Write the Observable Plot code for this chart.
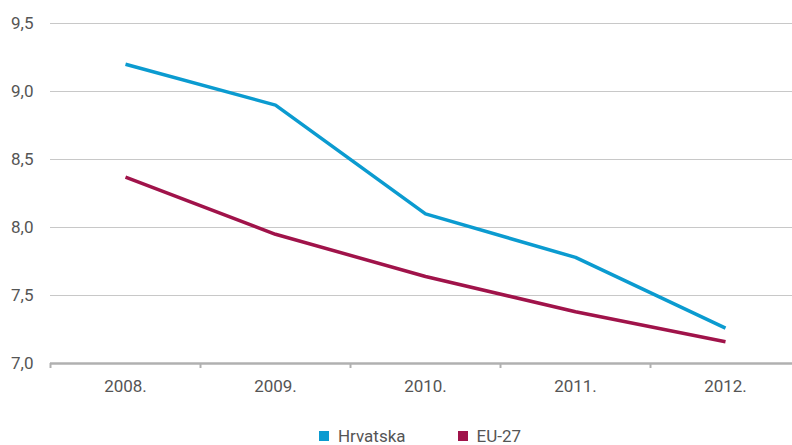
<!DOCTYPE html>
<html>
<head>
<meta charset="utf-8">
<script src="https://cdn.jsdelivr.net/npm/d3@7"></script>
<script src="https://cdn.jsdelivr.net/npm/@observablehq/plot@0.6"></script>
<style>
  body { margin: 0; background: #fff; font-family: Roboto, "DejaVu Sans", sans-serif; }
  #chart svg { display: block; }
  .legend { display: flex; justify-content: center; gap: 52px; height: 35px; align-items: center;
            font-size: 17px; color: #555; margin-left: 48px; margin-top: 8px; }
  .legend span.sw { display: inline-block; width: 10px; height: 10px; margin-right: 9px; vertical-align: 1px; }
</style>
</head>
<body>
<div id="chart"></div>
<div class="legend">
  <div><span class="sw" style="background:#0b9bd0"></span>Hrvatska</div>
  <div><span class="sw" style="background:#a0134a"></span>EU-27</div>
</div>
<script>
const years = [2008, 2009, 2010, 2011, 2012];
const hrvatska = [9.2, 8.9, 8.1, 7.78, 7.26];
const eu27 = [8.37, 7.95, 7.64, 7.38, 7.16];
const yTicks = [7.0, 7.5, 8.0, 8.5, 9.0, 9.5];
const seriesNames = ["Hrvatska", "EU-27"];
const seriesColors = ["#0b9bd0", "#a0134a"];

const rows = [];
years.forEach((yr, i) => {
  rows.push({year: yr, value: hrvatska[i], series: seriesNames[0]});
  rows.push({year: yr, value: eu27[i], series: seriesNames[1]});
});
const boundaries = years.map(y => y - 0.5).concat([years[years.length - 1] + 0.5]);

const plot = Plot.plot({
  width: 792,
  height: 410,
  marginTop: 23,
  marginBottom: 47,
  marginLeft: 50,
  marginRight: 0,
  style: {fontFamily: "Roboto, 'DejaVu Sans', sans-serif", fontSize: "17px", color: "#555", background: "#fff"},
  x: {domain: [boundaries[0], boundaries[boundaries.length - 1]], range: [50, 800]},
  y: {domain: [7.0, 9.5]},
  color: {domain: seriesNames, range: seriesColors},
  marks: [
    Plot.ruleY(yTicks.slice(1), {stroke: "#c8c8c8", strokeWidth: 1}),
    Plot.ruleY([7.0], {stroke: "#b0b0b0", strokeWidth: 2.5}),
    Plot.axisY({ticks: yTicks, tickSize: 0, tickPadding: 17, tickFormat: d => d.toFixed(1).replace(".", ","), label: null, fill: "#555"}),
    Plot.axisX({ticks: years, tickSize: 0, tickPadding: 16, tickFormat: d => d + ".", label: null, fill: "#555"}),
    Plot.axisX({ticks: boundaries, tickSize: 5, tickFormat: () => "", label: null, stroke: "#b0b0b0", strokeWidth: 2}),
    Plot.line(rows, {x: "year", y: "value", z: "series", stroke: "series", strokeWidth: 3.5, strokeLinejoin: "round", strokeLinecap: "butt"})
  ]
});
document.getElementById("chart").appendChild(plot);
</script>
</body>
</html>
